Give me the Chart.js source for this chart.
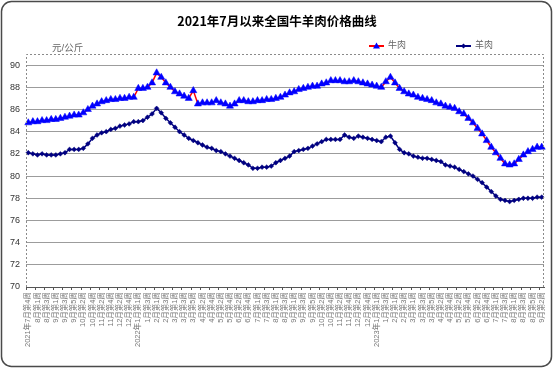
<!DOCTYPE html>
<html>
<head>
<meta charset="utf-8">
<script src="https://cdn.jsdelivr.net/npm/chart.js@4.4.1/dist/chart.umd.min.js"></script>
<style>
  html, body { margin: 0; padding: 0; background: #fff; }
</style>
</head>
<body>
<canvas id="priceChart" width="554" height="369"></canvas>
<script>
// ===== 2021年7月以来全国牛羊肉价格曲线 =====

const weeks = [
  '2021年7月第4周', '7月第5周', '8月第1周', '8月第2周', '8月第3周', '8月第4周',
  '9月第1周', '9月第2周', '9月第3周', '9月第4周', '9月第5周',
  '10月第1周', '10月第2周', '10月第3周', '10月第4周',
  '11月第1周', '11月第2周', '11月第3周', '11月第4周',
  '12月第1周', '12月第2周', '12月第3周', '12月第4周', '12月第5周',
  '2022年1月第1周', '1月第2周', '1月第3周', '1月第4周',
  '2月第1周', '2月第2周', '2月第3周', '2月第4周',
  '3月第1周', '3月第2周', '3月第3周', '3月第4周', '3月第5周',
  '4月第1周', '4月第2周', '4月第3周', '4月第4周',
  '5月第1周', '5月第2周', '5月第3周', '5月第4周',
  '6月第1周', '6月第2周', '6月第3周', '6月第4周', '6月第5周',
  '7月第1周', '7月第2周', '7月第3周', '7月第4周',
  '8月第1周', '8月第2周', '8月第3周', '8月第4周',
  '9月第1周', '9月第2周', '9月第3周', '9月第4周', '9月第5周',
  '10月第1周', '10月第2周', '10月第3周', '10月第4周',
  '11月第1周', '11月第2周', '11月第3周', '11月第4周',
  '12月第1周', '12月第2周', '12月第3周', '12月第4周', '12月第5周',
  '2023年1月第1周', '1月第2周', '1月第3周', '1月第4周',
  '2月第1周', '2月第2周', '2月第3周', '2月第4周',
  '3月第1周', '3月第2周', '3月第3周', '3月第4周', '3月第5周',
  '4月第1周', '4月第2周', '4月第3周', '4月第4周',
  '5月第1周', '5月第2周', '5月第3周', '5月第4周',
  '6月第1周', '6月第2周', '6月第3周', '6月第4周', '6月第5周',
  '7月第1周', '7月第2周', '7月第3周', '7月第4周',
  '8月第1周', '8月第2周', '8月第3周', '8月第4周', '8月第5周',
  '9月第1周', '9月第2周'
];

const beef = [
  84.8, 84.9, 84.9, 85.0, 85.0, 85.1, 85.1, 85.2, 85.3, 85.4,
  85.5, 85.5, 85.7, 86.0, 86.3, 86.5, 86.7, 86.8, 86.9, 86.9,
  87.0, 87.0, 87.1, 87.1, 87.9, 87.9, 88.0, 88.4, 89.3, 88.9,
  88.4, 88.0, 87.6, 87.4, 87.2, 87.0, 87.7, 86.5, 86.6, 86.6,
  86.6, 86.8, 86.6, 86.5, 86.3, 86.5, 86.8, 86.8, 86.7, 86.7,
  86.8, 86.8, 86.9, 86.9, 87.0, 87.1, 87.3, 87.5, 87.6, 87.8,
  87.9, 88.0, 88.1, 88.1, 88.3, 88.4, 88.6, 88.6, 88.6, 88.5,
  88.5, 88.6, 88.5, 88.4, 88.3, 88.2, 88.1, 88.0, 88.5, 88.9,
  88.4, 87.9, 87.6, 87.4, 87.3, 87.1, 87.0, 86.9, 86.8, 86.6,
  86.5, 86.3, 86.2, 86.1, 85.8, 85.6, 85.2, 84.8, 84.3, 83.8,
  83.2, 82.6, 82.1, 81.6, 81.1, 81.0, 81.1, 81.5, 81.9, 82.2,
  82.4, 82.6, 82.6
];

const mutton = [
  82.1, 82.0, 81.9, 82.0, 81.9, 81.9, 81.9, 82.0, 82.1, 82.4,
  82.4, 82.4, 82.5, 82.9, 83.4, 83.7, 83.9, 84.0, 84.2, 84.3,
  84.5, 84.6, 84.7, 84.9, 84.9, 85.0, 85.3, 85.6, 86.1, 85.7,
  85.2, 84.8, 84.4, 84.0, 83.7, 83.4, 83.2, 83.0, 82.8, 82.6,
  82.5, 82.3, 82.2, 82.0, 81.8, 81.6, 81.4, 81.2, 81.0, 80.7,
  80.7, 80.8, 80.8, 80.9, 81.2, 81.4, 81.6, 81.8, 82.2, 82.3,
  82.4, 82.5, 82.7, 82.9, 83.1, 83.3, 83.3, 83.3, 83.3, 83.7,
  83.5, 83.4, 83.6, 83.5, 83.4, 83.3, 83.2, 83.1, 83.5, 83.6,
  83.0, 82.4, 82.1, 82.0, 81.8, 81.7, 81.6, 81.6, 81.5, 81.4,
  81.3, 81.0, 80.9, 80.8, 80.6, 80.4, 80.2, 80.0, 79.7, 79.4,
  79.0, 78.6, 78.2, 77.9, 77.8, 77.7, 77.8, 77.9, 78.0, 78.0,
  78.0, 78.1, 78.1
];

const yTicks = [70, 72, 74, 76, 78, 80, 82, 84, 86, 88, 90];

const C = {
  beefLine:   '#FF0000',
  beefPoint:  '#0000FF',
  mutton:     '#000080',
  grid:       '#9C9C9C',
  axis:       '#555555',
  text:       '#333333',
  soft:       '#666666'
};

const cjk = "'Liberation Sans', 'Noto Sans CJK SC', sans-serif";

// frame, title, unit, legend and dashed plot border
const pluginFrame = {
  id: 'frame',
  beforeDraw(chart) {
    const { ctx, width, height } = chart;
    ctx.save();
    ctx.fillStyle = '#fff';
    ctx.fillRect(0, 0, width, height);

    // rounded outer border
    const r = 10, x0 = 1.5, y0 = 1.5, x1 = width - 2.5, y1 = height - 2.5;
    ctx.beginPath();
    ctx.moveTo(x0 + r, y0);
    ctx.arcTo(x1, y0, x1, y1, r);
    ctx.arcTo(x1, y1, x0, y1, r);
    ctx.arcTo(x0, y1, x0, y0, r);
    ctx.arcTo(x0, y0, x1, y0, r);
    ctx.closePath();
    ctx.strokeStyle = '#4a4a4a';
    ctx.lineWidth = 1.5;
    ctx.stroke();

    // title
    ctx.fillStyle = '#000';
    ctx.textAlign = 'center';
    ctx.textBaseline = 'middle';
    ctx.font = `bold 12.5px 'Noto Sans CJK SC', sans-serif`;
    ctx.fillText('2021年7月以来全国牛羊肉价格曲线', 277, 21);

    // unit
    ctx.fillStyle = C.soft;
    ctx.textAlign = 'left';
    ctx.font = `9.5px ${cjk}`;
    ctx.fillText('元/公斤', 52, 48);

    // legend
    const ly = 46;
    ctx.lineWidth = 2;
    ctx.strokeStyle = C.beefLine;
    ctx.beginPath(); ctx.moveTo(369, ly); ctx.lineTo(384, ly); ctx.stroke();
    ctx.fillStyle = C.beefPoint;
    ctx.beginPath();
    ctx.moveTo(376.5, ly - 3.5); ctx.lineTo(380, ly + 2.5); ctx.lineTo(373, ly + 2.5);
    ctx.closePath(); ctx.fill();
    ctx.strokeStyle = C.mutton;
    ctx.beginPath(); ctx.moveTo(456, ly); ctx.lineTo(471, ly); ctx.stroke();
    ctx.fillStyle = C.mutton;
    ctx.beginPath();
    ctx.moveTo(463.5, ly - 2.5); ctx.lineTo(466, ly); ctx.lineTo(463.5, ly + 2.5); ctx.lineTo(461, ly);
    ctx.closePath(); ctx.fill();
    ctx.fillStyle = C.soft;
    ctx.font = `9px ${cjk}`;
    ctx.fillText('牛肉', 388, ly);
    ctx.fillText('羊肉', 475, ly);
    ctx.restore();
  },
  afterDraw(chart) {
    const { ctx, chartArea: { left, top, right, bottom } } = chart;
    ctx.save();
    ctx.strokeStyle = '#8a8a8a';
    ctx.lineWidth = 1;
    ctx.setLineDash([2, 2]);
    ctx.beginPath();
    ctx.moveTo(left + 0.5, bottom);
    ctx.lineTo(left + 0.5, top + 0.5);
    ctx.lineTo(right - 0.5, top + 0.5);
    ctx.lineTo(right - 0.5, bottom);
    ctx.stroke();
    ctx.restore();
  }
};

new Chart(document.getElementById('priceChart'), {
  type: 'line',
  data: {
    labels: weeks,
    datasets: [
      {
        label: '牛肉',
        data: beef,
        borderColor: C.beefLine,
        borderWidth: 1.5,
        pointStyle: 'triangle',
        pointRadius: 4.1,
        pointBackgroundColor: C.beefPoint,
        pointBorderColor: C.beefPoint,
        pointBorderWidth: 0.5,
        tension: 0
      },
      {
        label: '羊肉',
        data: mutton,
        borderColor: C.mutton,
        borderWidth: 1.5,
        pointStyle: 'rectRot',
        pointRadius: 2.4,
        pointBackgroundColor: C.mutton,
        pointBorderColor: C.mutton,
        pointBorderWidth: 0.5,
        tension: 0
      }
    ]
  },
  options: {
    responsive: false,
    animation: false,
    layout: { padding: { left: 4, right: 10, top: 54, bottom: 0 } },
    plugins: {
      legend: { display: false },
      title: { display: false },
      tooltip: { enabled: true }
    },
    scales: {
      x: {
        offset: true,
        afterFit: s => { s.height = 82; },
        grid: {
          offset: true,
          drawOnChartArea: false,
          tickLength: 3,
          color: ctx => (ctx.index % 2 === 0 ? '#555' : 'rgba(0,0,0,0)')
        },
        border: { color: C.axis, width: 1 },
        ticks: {
          autoSkip: false,
          maxRotation: 90,
          minRotation: 90,
          padding: 2,
          color: '#777',
          font: { size: 7.5, family: cjk },
          callback: (v, i) => (i % 2 === 0 ? weeks[i] : '')
        }
      },
      y: {
        min: yTicks[0],
        max: 91,
        afterFit: s => { s.width = 22; },
        afterBuildTicks: s => { s.ticks = yTicks.map(v => ({ value: v })); },
        grid: { color: C.grid, lineWidth: 1, drawTicks: false },
        border: { display: false },
        ticks: {
          padding: 6,
          color: C.text,
          font: { size: 9, family: cjk }
        }
      }
    }
  },
  plugins: [pluginFrame]
});
</script>
</body>
</html>
